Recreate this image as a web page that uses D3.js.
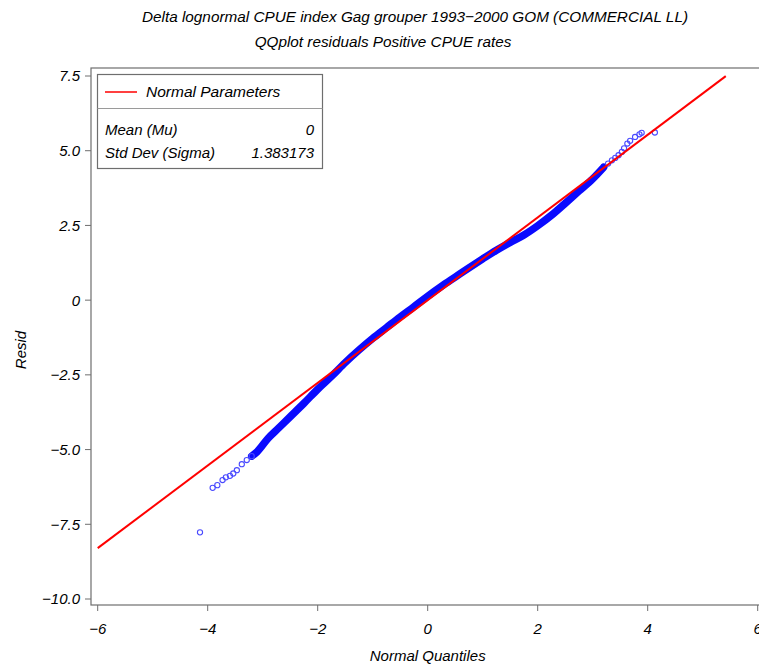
<!DOCTYPE html>
<html>
<head>
<meta charset="utf-8">
<script src="https://cdn.jsdelivr.net/npm/d3@7/dist/d3.min.js"></script>
<style>
    body { margin: 0; background: #fff; }
    text { font-family: "Liberation Sans", Arial, sans-serif; font-style: italic; fill: #000; }
</style>
</head>
<body>
<div id="chart"></div>
<script>
// Values.
var titleLines = ["Delta lognormal CPUE index Gag grouper 1993\u22122000 GOM (COMMERCIAL LL)",
                  "QQplot residuals Positive CPUE rates"];

var xTicks = [-6, -4, -2, 0, 2, 4, 6];
var xTickLabels = ["\u22126", "\u22124", "\u22122", "0", "2", "4", "6"];
var yTicks = [7.5, 5, 2.5, 0, -2.5, -5, -7.5, -10];
var yTickLabels = ["7.5", "5.0", "2.5", "0", "\u22122.5", "\u22125.0", "\u22127.5", "\u221210.0"];

var mu = 0;
var sigma = 1.383173;
var refLineQ = [-6, 5.42];

// sparse lower tail (normal quantile, residual)
var lowTailQ = [-4.14, -3.91, -3.825, -3.73, -3.67, -3.595, -3.535, -3.47, -3.38, -3.29, -3.2];
var lowTailR = [-7.77, -6.28, -6.19, -6.02, -5.93, -5.88, -5.80, -5.69, -5.49, -5.35, -5.22];

// dense body of the plot (thousands of overlapping markers)
var bandQ = [-3.2, -3.1, -2.9, -2.75, -2.5, -2.25, -2.0, -1.75, -1.5, -1.25, -1.0, -0.75, -0.5, -0.25,
             0, 0.25, 0.5, 0.75, 1.0, 1.25, 1.5, 1.75, 2.0, 2.25, 2.5, 2.75, 3.0, 3.2];
var bandR = [-5.22, -5.07, -4.62, -4.35, -3.90, -3.45, -2.98, -2.55, -2.09, -1.67, -1.28, -0.92, -0.56, -0.22,
             0.13, 0.46, 0.77, 1.08, 1.38, 1.67, 1.93, 2.18, 2.49, 2.84, 3.24, 3.65, 4.06, 4.45];

// sparse upper tail
var highTailQ = [3.28, 3.35, 3.41, 3.47, 3.53, 3.57, 3.63, 3.68, 3.77, 3.85, 3.89, 4.13];
var highTailR = [4.57, 4.68, 4.76, 4.85, 4.96, 5.08, 5.24, 5.33, 5.46, 5.55, 5.60, 5.61];

function zipPts(q, r) {
    return q.map(function(d, i){ return {q: d, r: r[i]}; });
}

QQPlot = function(_parentElement){
    var vis = this;
    vis.parentElement = _parentElement;
    vis.initVis();
};

QQPlot.prototype.initVis = function(){
    var vis = this;

    vis.W = 759;
    vis.H = 667;
    vis.frame = { left: 91, right: 764, top: 68, bottom: 605 };

    vis.svg = d3.select("#" + vis.parentElement).append("svg")
        .attr("width", vis.W)
        .attr("height", vis.H);

    vis.x = d3.scaleLinear().domain([-6, 6]).range([97.7, 757.7]);
    vis.y = d3.scaleLinear().domain([-10, 7.5]).range([599, 76]);

    vis.lowTail = zipPts(lowTailQ, lowTailR);
    vis.band = zipPts(bandQ, bandR);
    vis.highTail = zipPts(highTailQ, highTailR);

    vis.updateVis();
};

QQPlot.prototype.updateVis = function(){
    var vis = this;
    var f = vis.frame;

    // Titles
    vis.svg.append("text")
        .attr("x", 415).attr("y", 22)
        .attr("text-anchor", "middle")
        .style("font-size", "15.3px")
        .text(titleLines[0]);
    vis.svg.append("text")
        .attr("x", 383).attr("y", 47)
        .attr("text-anchor", "middle")
        .style("font-size", "15.3px")
        .text(titleLines[1]);

    // Plot frame
    vis.svg.append("rect")
        .attr("x", f.left).attr("y", f.top)
        .attr("width", f.right - f.left).attr("height", f.bottom - f.top)
        .attr("fill", "none")
        .attr("stroke", "#6e6e6e")
        .attr("stroke-width", 1.2);

    // Y ticks
    var yg = vis.svg.append("g").attr("class", "axis--y");
    yg.selectAll("line").data(yTicks).enter().append("line")
        .attr("x1", f.left - 6).attr("x2", f.left)
        .attr("y1", function(d){ return vis.y(d); })
        .attr("y2", function(d){ return vis.y(d); })
        .attr("stroke", "#6e6e6e");
    yg.selectAll("text").data(yTicks).enter().append("text")
        .attr("x", f.left - 11)
        .attr("y", function(d){ return vis.y(d); })
        .attr("dy", "0.36em")
        .attr("text-anchor", "end")
        .style("font-size", "15px")
        .text(function(d, i){ return yTickLabels[i]; });

    // X ticks
    var xg = vis.svg.append("g").attr("class", "axis--x");
    xg.selectAll("line").data(xTicks).enter().append("line")
        .attr("x1", function(d){ return vis.x(d); })
        .attr("x2", function(d){ return vis.x(d); })
        .attr("y1", f.bottom).attr("y2", f.bottom + 6)
        .attr("stroke", "#6e6e6e");
    xg.selectAll("text").data(xTicks).enter().append("text")
        .attr("x", function(d){ return vis.x(d); })
        .attr("y", f.bottom + 29)
        .attr("text-anchor", "middle")
        .style("font-size", "15px")
        .text(function(d, i){ return xTickLabels[i]; });

    // Axis labels
    vis.svg.append("text")
        .attr("x", vis.x(0)).attr("y", 661)
        .attr("text-anchor", "middle")
        .style("font-size", "15px")
        .text("Normal Quantiles");
    vis.svg.append("text")
        .attr("transform", "translate(26,350) rotate(-90)")
        .attr("text-anchor", "middle")
        .style("font-size", "15px")
        .text("Resid");

    // Dense body of residuals
    var line = d3.line()
        .x(function(d){ return vis.x(d.q); })
        .y(function(d){ return vis.y(d.r); })
        .curve(d3.curveMonotoneX);
    vis.svg.append("path")
        .datum(vis.band)
        .attr("d", line)
        .attr("fill", "none")
        .attr("stroke", "#0a0aff")
        .attr("stroke-width", 7.5)
        .attr("stroke-linecap", "round");

    // Sparse tails
    vis.svg.selectAll(".dot")
        .data(vis.lowTail.concat(vis.highTail))
        .enter().append("circle")
        .attr("class", "dot")
        .attr("cx", function(d){ return vis.x(d.q); })
        .attr("cy", function(d){ return vis.y(d.r); })
        .attr("r", 2.6)
        .attr("fill", "none")
        .attr("stroke", "#4a4aff")
        .attr("stroke-width", 1.1);

    // Normal reference line (drawn over the points)
    vis.svg.append("line")
        .attr("x1", vis.x(refLineQ[0])).attr("y1", vis.y(mu + sigma * refLineQ[0]))
        .attr("x2", vis.x(refLineQ[1])).attr("y2", vis.y(mu + sigma * refLineQ[1]))
        .attr("stroke", "#ff0000")
        .attr("stroke-width", 2);

    // Legend
    var lg = vis.svg.append("g").attr("class", "legend");
    lg.append("rect")
        .attr("x", 97.5).attr("y", 74.5)
        .attr("width", 225).attr("height", 94)
        .attr("fill", "#fff")
        .attr("stroke", "#6e6e6e")
        .attr("stroke-width", 1.2);
    lg.append("line")
        .attr("x1", 97.5).attr("x2", 322.5)
        .attr("y1", 108.5).attr("y2", 108.5)
        .attr("stroke", "#9a9a9a");
    lg.append("line")
        .attr("x1", 105).attr("x2", 137)
        .attr("y1", 92).attr("y2", 92)
        .attr("stroke", "#ff0000")
        .attr("stroke-width", 1.5);
    lg.append("text")
        .attr("x", 146).attr("y", 97)
        .style("font-size", "15.5px")
        .text("Normal Parameters");
    lg.append("text")
        .attr("x", 105).attr("y", 135)
        .style("font-size", "15px")
        .text("Mean (Mu)");
    lg.append("text")
        .attr("x", 314).attr("y", 135)
        .attr("text-anchor", "end")
        .style("font-size", "15px")
        .text(String(mu));
    lg.append("text")
        .attr("x", 105).attr("y", 158)
        .style("font-size", "15px")
        .text("Std Dev (Sigma)");
    lg.append("text")
        .attr("x", 314).attr("y", 158)
        .attr("text-anchor", "end")
        .style("font-size", "15px")
        .text(String(sigma));
};

var qq = new QQPlot("chart");
</script>
</body>
</html>
